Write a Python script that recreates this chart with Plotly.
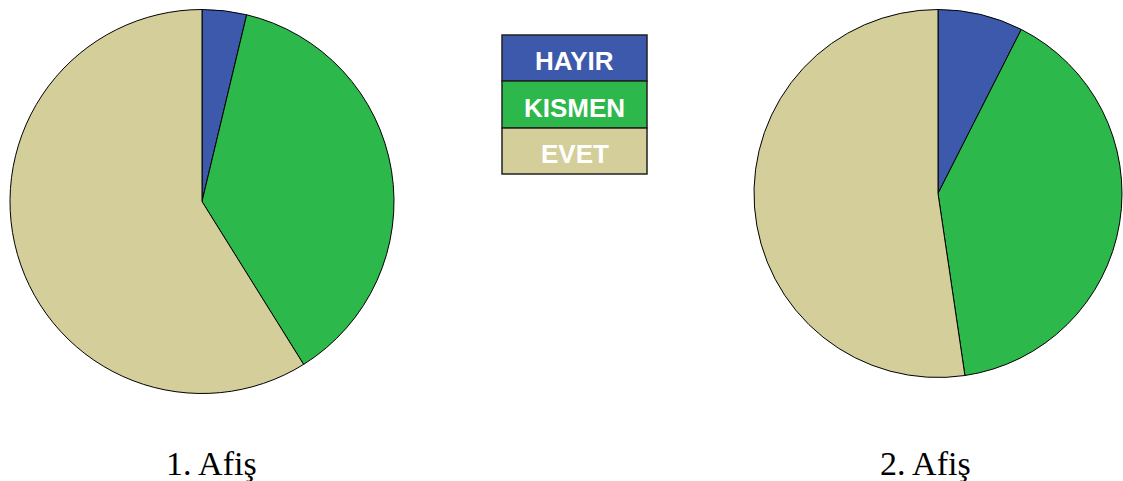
import plotly.graph_objects as go

categories = ["HAYIR", "KISMEN", "EVET"]
afis1_counts = [4, 40, 63]
afis2_counts = [8, 43, 56]
pie_titles = ["1. Afiş", "2. Afiş"]
colors = ["#3D59AB", "#2DB84B", "#D4CE9A"]

W, H = 1123, 481

def clamp(v):
    return max(0.0, min(1.0, v))

def px(x0, x1):
    return [clamp(x0 / W), clamp(x1 / W)]

def py(ytop, ybot):
    return [clamp(1 - ybot / H), clamp(1 - ytop / H)]

def X(x):
    return x / W

def Y(y):
    return 1 - y / H

fig = go.Figure()
for vals, dx, dy in [
    (afis1_counts, px(10, 394), py(8, 395)),
    (afis2_counts, px(754, 1122), py(7, 380)),
]:
    fig.add_trace(go.Pie(
        labels=categories, values=vals, sort=False, direction="clockwise",
        rotation=0, textinfo="none", hoverinfo="label+value+percent",
        marker=dict(colors=colors, line=dict(color="black", width=1)),
        domain=dict(x=dx, y=dy), showlegend=False,
    ))

# custom legend
box_x0, box_x1 = 502, 647
row_edges = [35, 81, 128, 174]
for i, cat in enumerate(categories):
    y0, y1 = row_edges[i], row_edges[i + 1]
    fig.add_shape(type="rect", xref="paper", yref="paper",
                  x0=X(box_x0), x1=X(box_x1), y0=Y(y1), y1=Y(y0),
                  fillcolor=colors[i], line=dict(color="#222222", width=1.5))
    fig.add_annotation(xref="paper", yref="paper", x=X((box_x0 + box_x1) / 2),
                       y=Y((y0 + y1) / 2 + 3), text="<b>" + cat + "</b>",
                       showarrow=False, xanchor="center", yanchor="middle",
                       font=dict(family="Liberation Sans, Arial", size=26, color="white"))

for title, cx in zip(pie_titles, [211, 925]):
    fig.add_annotation(xref="paper", yref="paper", x=X(cx), y=Y(463),
                       text=title, showarrow=False, xanchor="center", yanchor="middle",
                       font=dict(family="Liberation Serif, Times New Roman", size=34, color="black"))

fig.update_layout(width=W, height=H, margin=dict(l=0, r=0, t=0, b=0),
                  paper_bgcolor="white", plot_bgcolor="white", showlegend=False)
fig.write_html("out.html", config={"displayModeBar": False},
               post_script="document.body.style.margin='0';document.body.style.overflow='hidden';")
